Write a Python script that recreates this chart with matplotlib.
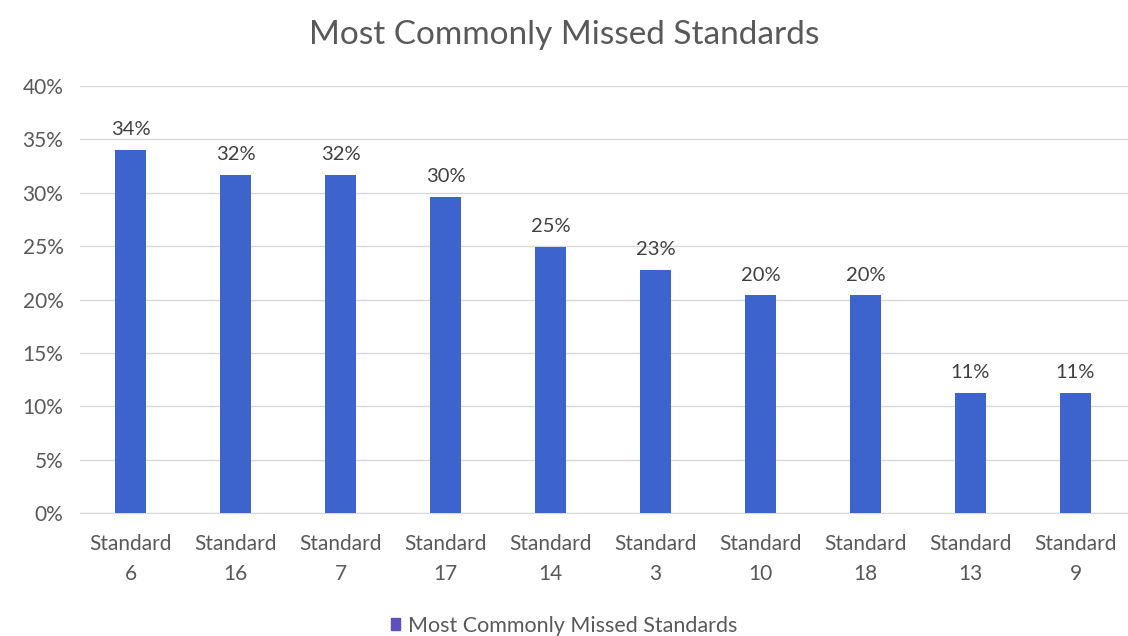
import numpy as np
import matplotlib.pyplot as plt
from matplotlib.patches import Patch

# values
standards = ['6', '16', '7', '17', '14', '3', '10', '18', '13', '9']
missed = [34.0, 31.7, 31.7, 29.6, 24.9, 22.8, 20.4, 20.4, 11.3, 11.3]
labels = ['34%', '32%', '32%', '30%', '25%', '23%', '20%', '20%', '11%', '11%']
yticks = [0, 5, 10, 15, 20, 25, 30, 35, 40]

bar_color = '#3d63cc'
text_color = '#595959'

plt.rcParams['font.family'] = ['Lato', 'DejaVu Sans']

fig = plt.figure(figsize=(11.28, 6.36), dpi=100)
ax = fig.add_axes([0.071, 0.193, 0.929, 0.672])

x = np.arange(len(standards))
bars = ax.bar(x, missed, width=0.30, color=bar_color, zorder=3)

for xi, v, lab in zip(x, missed, labels):
    ax.text(xi, v + 1.1, lab, ha='center', va='bottom', fontsize=14.5, color='#404040')

ax.set_xlim(-0.48, 9.5)
ax.set_ylim(0, 40)
ax.set_yticks(yticks)
ax.set_yticklabels([f'{t}%' for t in yticks])
ax.set_xticks(x)
ax.set_xticklabels([f'Standard\n{s}' for s in standards], linespacing=1.6)
ax.tick_params(axis='both', length=0, colors=text_color, labelsize=15)
ax.tick_params(axis='x', pad=15)
ax.tick_params(axis='y', pad=12)

ax.grid(axis='y', color='#d9d9d9', linewidth=1, zorder=0)
for sp in ['top', 'right', 'left']:
    ax.spines[sp].set_visible(False)
ax.spines['bottom'].set_color('#d9d9d9')

fig.suptitle('Most Commonly Missed Standards', y=0.968, fontsize=24, color=text_color)

handle = Patch(color='#5a50c0', label='Most Commonly Missed Standards')
fig.legend(handles=[handle], loc='lower center', bbox_to_anchor=(0.5, -0.03), frameon=False,
           fontsize=15.5, labelcolor=text_color, handlelength=0.45, handleheight=0.45,
           handletextpad=0.35)

fig.savefig('out.png', dpi=100)
